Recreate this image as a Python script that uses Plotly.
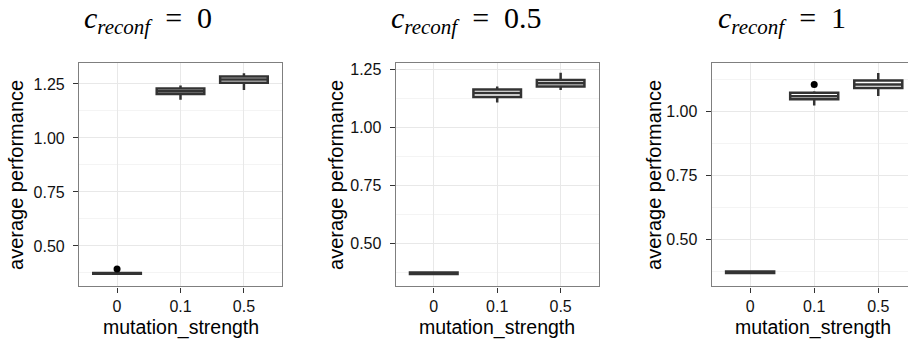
import plotly.graph_objects as go

# ---------------- data ----------------
categories = ["0", "0.1", "0.5"]
panel_labels = ["0", "0.5", "1"]

# per panel: values for categories 0, 0.1, 0.5
lower_p = [[0.366, 1.177, 1.222], [0.362, 1.106, 1.160], [0.364, 1.023, 1.060]]
q1_p    = [[0.371, 1.203, 1.256], [0.367, 1.129, 1.175], [0.368, 1.047, 1.091]]
med_p   = [[0.373, 1.216, 1.271], [0.370, 1.147, 1.189], [0.371, 1.059, 1.105]]
q3_p    = [[0.375, 1.229, 1.285], [0.373, 1.162, 1.203], [0.374, 1.072, 1.120]]
upper_p = [[0.380, 1.243, 1.300], [0.379, 1.175, 1.234], [0.378, 1.078, 1.150]]

outlier_x = [["0"], [], ["0.1"]]
outlier_y = [[0.393], [], [1.105]]

y_ranges = [[0.312, 1.345], [0.313, 1.274], [0.315, 1.187]]
x_ranges = [[-0.6, 2.6], [-0.6, 2.6], [-0.6, 2.464]]

tick_vals = [0.50, 0.75, 1.00, 1.25]
tick_text = ["0.50", "0.75", "1.00", "1.25"]

# ---------------- layout geometry ----------------
W, H = 908, 341
x_domains = [[79 / W, 282 / W], [395.7 / W, 598.7 / W], [711.7 / W, 1.0]]
y_domain = [1 - 286 / H, 1 - 61 / H]
title_cx = [148, 466, 782]
ytitle_cx = [16, 336, 654]
xtitle_cx = [180.5, 497, 813]

fig = go.Figure()
annotations = []

for i in range(3):
    xa = "x" if i == 0 else f"x{i+1}"
    ya = "y" if i == 0 else f"y{i+1}"
    fig.add_trace(go.Box(
        x=categories,
        lowerfence=lower_p[i], q1=q1_p[i], median=med_p[i],
        q3=q3_p[i], upperfence=upper_p[i],
        width=0.75, whiskerwidth=0,
        fillcolor="white", line=dict(color="#333333", width=2.5),
        boxpoints=False, showlegend=False, hoverinfo="skip",
        xaxis=xa, yaxis=ya,
    ))
    if outlier_y[i]:
        fig.add_trace(go.Scatter(
            x=outlier_x[i], y=outlier_y[i], mode="markers",
            marker=dict(color="black", size=7),
            showlegend=False, hoverinfo="skip", xaxis=xa, yaxis=ya,
        ))

    xkey = "xaxis" if i == 0 else f"xaxis{i+1}"
    ykey = "yaxis" if i == 0 else f"yaxis{i+1}"
    fig.update_layout(**{
        xkey: dict(
            domain=x_domains[i], anchor=ya, type="category",
            categoryorder="array", categoryarray=categories,
            range=x_ranges[i],
            showgrid=True, gridcolor="#e8e8e8", gridwidth=1,
            showline=True, linecolor="#7f7f7f", linewidth=1.2, mirror=True,
            ticks="outside", ticklen=5, tickcolor="#333333", tickwidth=1.2,
            ticklabelstandoff=0,
            tickfont=dict(family="Liberation Sans", size=16, color="#111111"),
            zeroline=False, fixedrange=True,
        ),
        ykey: dict(
            domain=y_domain, anchor=xa, range=y_ranges[i],
            tickvals=tick_vals, ticktext=tick_text,
            showgrid=True, gridcolor="#e8e8e8", gridwidth=1,
            minor=dict(showgrid=True, gridcolor="#f4f4f4", gridwidth=1, dtick=0.125, tick0=0.375),
            showline=True, linecolor="#7f7f7f", linewidth=1.2,
            mirror=(i < 2),
            ticks="outside", ticklen=5, tickcolor="#333333", tickwidth=1.2,
            ticklabelstandoff=5,
            tickfont=dict(family="Liberation Sans", size=16, color="#111111"),
            zeroline=False, fixedrange=True,
        ),
    })

    annotations.append(dict(
        text=f"<i>c</i><sub><i>reconf</i></sub>&nbsp;&nbsp;=&nbsp;&nbsp;{panel_labels[i]}",
        x=title_cx[i] / W, y=1 - 17 / H, xref="paper", yref="paper",
        xanchor="center", yanchor="middle", showarrow=False,
        font=dict(family="Liberation Serif", size=30, color="black"),
    ))
    annotations.append(dict(
        text="average performance", textangle=-90,
        x=ytitle_cx[i] / W, y=1 - 173.5 / H, xref="paper", yref="paper",
        xanchor="center", yanchor="middle", showarrow=False,
        font=dict(family="Liberation Sans", size=20, color="black"),
    ))
    annotations.append(dict(
        text="mutation_strength",
        x=xtitle_cx[i] / W, y=1 - 327 / H, xref="paper", yref="paper",
        xanchor="center", yanchor="middle", showarrow=False,
        font=dict(family="Liberation Sans", size=19.5, color="black"),
    ))

fig.update_layout(
    width=W, height=H,
    margin=dict(l=0, r=0, t=0, b=0),
    paper_bgcolor="white", plot_bgcolor="white",
    annotations=annotations, showlegend=False,
)

fig.write_html("out.html", config={"displayModeBar": False})
